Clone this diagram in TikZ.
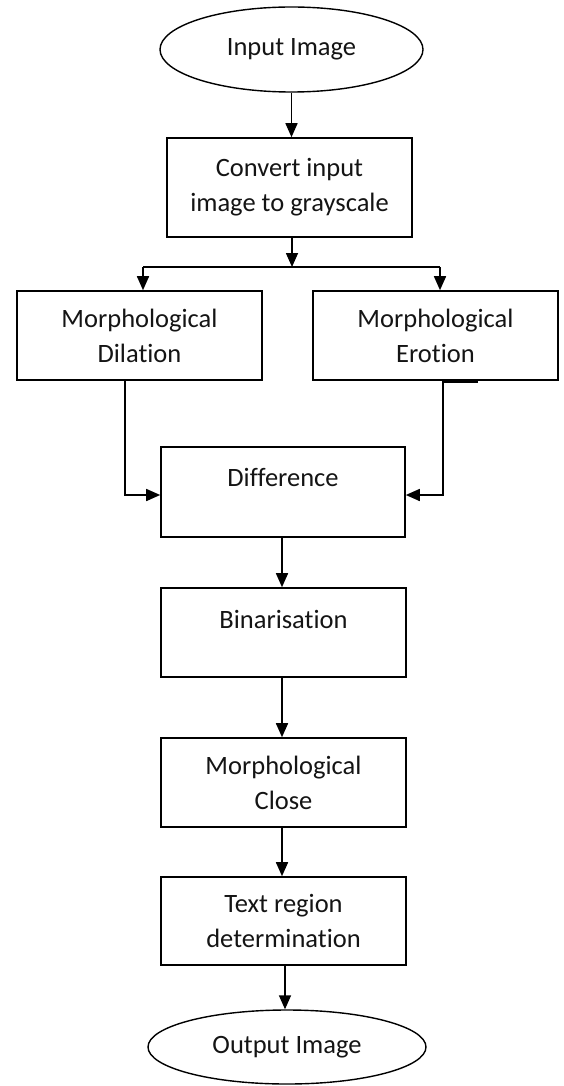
\documentclass[tikz,border=0pt]{standalone}
\usepackage{fontspec}
\setmainfont{Carlito}[RawFeature={-liga,-clig,-dlig}]
\usetikzlibrary{shapes.geometric,arrows.meta}
\begin{document}
\begin{tikzpicture}[x=1pt,y=-1pt,
 every node/.style={font=\fontsize{26.5}{35}\selectfont, text=black!92},
 box/.style={draw, line width=1.6pt, rectangle, minimum width=245pt, minimum height=89pt, inner sep=0pt},
 oval/.style={draw, line width=1.4pt, ellipse, inner sep=0pt},
 arr/.style={line width=1.6pt, -{Triangle[length=14pt,width=12pt]}},
 ln/.style={line width=1.6pt}]
\useasboundingbox (0,0) rectangle (563,1086);

\node[oval, minimum width=263pt, minimum height=85pt] (in) at (291.5,49.5) {Input Image};
\node[box, align=center, minimum height=99pt] (conv) at (289.5,187.5) {Convert input\\image to grayscale};
\node[box, align=center] (dil) at (139.5,335.5) {Morphological\\Dilation};
\node[box, align=center] (ero) at (435.5,335.5) {Morphological\\Erotion};
\node[box, minimum width=244pt, text height=39pt, text depth=51pt] (diff) at (283,492) {Difference};
\node[box, text height=40pt, text depth=49pt] (bin) at (283.5,632.5) {Binarisation};
\node[box, align=center] (clo) at (283.5,782.5) {Morphological\\Close};
\node[box, align=center, minimum height=88pt] (txt) at (283.5,921) {Text region\\determination};
\node[oval, minimum width=278pt, minimum height=74pt] (out) at (287,1047) {Output Image};

\coordinate (jc) at (292,267);
\coordinate (jl) at (143,267);
\coordinate (jr) at (440,267);

\draw[arr] (in.south) -- (in.south |- conv.north);
\draw[arr] (conv.south -| jc) -- (jc);
\draw[ln] (jl) -- (jr);
\draw[arr] (jl) -- (jl |- dil.north);
\draw[arr] (jr) -- (jr |- ero.north);
\draw[arr] ([xshift=-14.5pt]dil.south) |- ([yshift=-3pt]diff.west);
\draw[arr] ([xshift=7.5pt]ero.south) |- ([yshift=-3pt]diff.east);
\draw[line width=2.6pt] ([xshift=7.5pt,yshift=-1pt]ero.south) -- ([xshift=42.5pt,yshift=-1pt]ero.south);
\draw[arr] ([xshift=-1pt]diff.south) -- ([xshift=-1pt]diff.south |- bin.north);
\draw[arr] ([xshift=-1.5pt]bin.south) -- ([xshift=-1.5pt]bin.south |- clo.north);
\draw[arr] ([xshift=-1.5pt]clo.south) -- ([xshift=-1.5pt]clo.south |- txt.north);
\draw[arr] ([xshift=1.5pt]txt.south) -- ([xshift=1.5pt]txt.south |- out.north);
\end{tikzpicture}
\end{document}
